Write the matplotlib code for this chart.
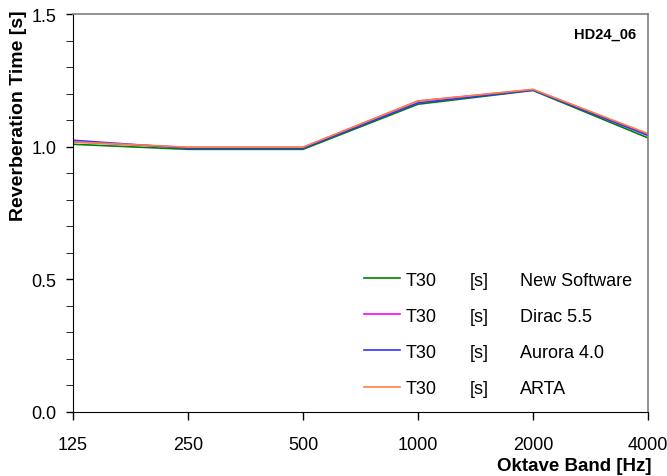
import matplotlib

matplotlib.use("Agg")
import matplotlib.pyplot as plt
from matplotlib.ticker import MultipleLocator
from matplotlib.transforms import blended_transform_factory, IdentityTransform

# octave bands and T30 values
bands = ["125", "250", "500", "1000", "2000", "4000"]
new_software = [1.009, 0.990, 0.990, 1.160, 1.212, 1.033]
dirac = [1.018, 0.997, 0.997, 1.172, 1.215, 1.046]
aurora = [1.024, 0.994, 0.994, 1.165, 1.213, 1.042]
arta = [1.018, 0.998, 0.998, 1.172, 1.216, 1.049]

series = [
    ("New Software", new_software, "#008000"),
    ("Dirac 5.5", dirac, "#ff00ff"),
    ("Aurora 4.0", aurora, "#3333ff"),
    ("ARTA", arta, "#ff7f3f"),
]

plt.rcParams["font.family"] = ["Liberation Sans", "DejaVu Sans"]

fig = plt.figure(figsize=(6.67, 4.77), dpi=100)
ax = fig.add_axes([73 / 667, 1 - 413 / 477, 575 / 667, 398 / 477])

xs = list(range(len(bands)))
handles = []
for name, vals, color in series:
    (ln,) = ax.plot(xs, vals, color=color, linewidth=1.2)
    handles.append(ln)

ax.set_xlim(0, len(bands) - 1)
ax.set_ylim(0, 1.5)
ax.set_xticks(xs)
ax.set_xticklabels(bands)
ax.yaxis.set_major_locator(MultipleLocator(0.5))
ax.yaxis.set_minor_locator(MultipleLocator(0.1))
ax.yaxis.set_major_formatter(plt.FormatStrFormatter("%.1f"))
ax.tick_params(axis="both", labelsize=13, direction="out", width=1, color="black")
ax.tick_params(axis="y", which="both", length=5, pad=7)
ax.tick_params(axis="x", length=6, pad=11)

for side in ("top", "right"):
    ax.spines[side].set_color("#808080")
    ax.spines[side].set_linewidth(1.2)
for side in ("left", "bottom"):
    ax.spines[side].set_color("black")

ax.set_ylabel("Reverberation Time [s]", fontsize=14, fontweight="bold", loc="top")
ax.yaxis.set_label_coords(-0.080, 1.012)
ax.set_xlabel("Oktave Band [Hz]", fontsize=13.5, fontweight="bold", loc="right")
ax.xaxis.set_label_coords(1.006, -0.112)

ax.text(0.979, 0.95, "HD24_06", transform=ax.transAxes, ha="right", va="center",
        fontsize=10.5, fontweight="bold")

leg = ax.legend(handles, ["T30"] * len(series), loc="upper left",
                bbox_to_anchor=((364 - 73) / 575, 0.353), frameon=False,
                fontsize=13, handlelength=2.0, handletextpad=0.3,
                labelspacing=1.06, borderpad=0, borderaxespad=0)

# remaining legend columns, aligned to the rows the legend placed
fig.canvas.draw()
renderer = fig.canvas.get_renderer()
trans = blended_transform_factory(ax.transAxes, IdentityTransform())
for txt, (name, _, _) in zip(leg.get_texts(), series):
    bb = txt.get_window_extent(renderer)
    yc = (bb.y0 + bb.y1) / 2
    ax.text((470 - 73) / 575, yc, "[s]", transform=trans, ha="left", va="center", fontsize=13)
    ax.text((520 - 73) / 575, yc, name, transform=trans, ha="left", va="center", fontsize=13)

fig.savefig("out.png", dpi=100)
